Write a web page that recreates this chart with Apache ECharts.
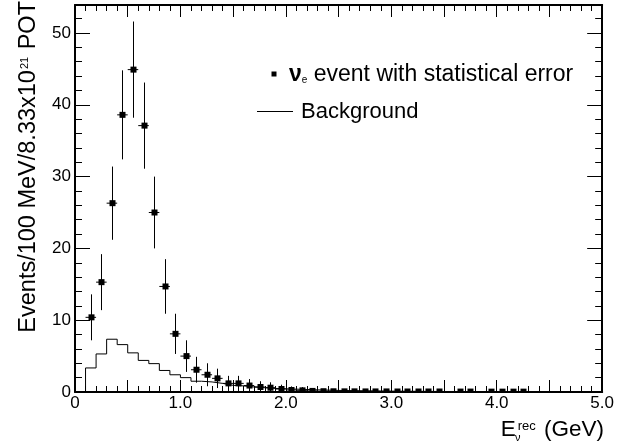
<!DOCTYPE html>
<html>
<head>
<meta charset="utf-8">
<script src="https://cdn.jsdelivr.net/npm/echarts@6/dist/echarts.min.js"></script>
<style>html,body{margin:0;padding:0;background:#fff}#c{width:617px;height:448px}</style>
</head>
<body>
<div id="c"></div>
<script>
// ---- data ----
// measured points (bin centres, GeV), event counts and statistical errors
const pointE = [0.15,0.25,0.35,0.45,0.55,0.65,0.75,0.85,0.95,1.05,1.15,1.25,1.35,1.45,1.55,1.65,1.75,1.85,1.95,2.05,2.15,2.25,2.35,2.45,2.55,2.65,2.75,2.85,2.95,3.05,3.15,3.25,3.35,3.45,3.65,3.75,3.95,4.05,4.15,4.25];
const pointN = [10.4,15.3,26.3,38.6,44.9,37.1,25.0,14.7,8.1,5.0,3.1,2.4,1.9,1.2,1.2,0.9,0.7,0.6,0.42,0.28,0.23,0.15,0.11,0.10,0.09,0.09,0.08,0.08,0.08,0.07,0.07,0.07,0.07,0.07,0.06,0.06,0.05,0.05,0.05,0.05];
const pointErr = [3.2,3.9,5.1,6.2,6.7,6.0,5.0,3.8,2.8,2.2,1.8,1.6,1.35,1.05,1.05,0.9,0.8,0.75,0.6,0.5,0.45,0.35,0.3,0.3,0.28,0.28,0.27,0.27,0.27,0.25,0.25,0.25,0.25,0.25,0.24,0.24,0.22,0.22,0.22,0.22];
const binWidth = 0.1;
// background histogram, one value per 0.1 GeV bin starting at 0.0
const bgValues = [0,3.35,5.3,7.35,6.6,5.45,4.4,3.95,3.0,2.4,2.0,1.5,1.4,1.2,0.93,0.85,0.7,0.6,0.5,
  0.45,0.4,0.35,0.3,0.26,0.22,0.2,0.18,0.16,0.14,0.12,0.11,0.1,0.09,0.08,0.07,0.07,0.06,0.06,0.05,0.05,0.04,0.04,0.04,0.03,0.03,0.03,0.02,0.02,0.02,0.02];
const xMin = 0, xMax = 5.0, yMin = 0, yMax = 53.9;
const xTickLabels = {0:'0',1:'1.0',2:'2.0',3:'3.0',4:'4.0',5:'5.0'};
const yTickLabels = [0,10,20,30,40,50];

const FONT = "'Liberation Sans', Arial, Helvetica, sans-serif";

const bgData = bgValues.map((v,i)=>[+(i*binWidth).toFixed(2), v]);
bgData.push([xMax, bgValues[bgValues.length-1]]);
const ptData = pointE.map((e,i)=>[e, pointN[i], pointErr[i]]);

function xLab(v){ const r=Math.round(v); return Math.abs(v-r)<1e-6 && xTickLabels[r]!==undefined ? xTickLabels[r] : ''; }
function yLab(v){ return yTickLabels.indexOf(Math.round(v))>=0 && Math.abs(v-Math.round(v))<1e-6 ? String(Math.round(v)) : ''; }

const axCommonX = {
  type:'value', min:xMin, max:xMax, interval:0.5,
  axisLine:{show:true,onZero:false,lineStyle:{color:'#000',width:2}},
  axisTick:{show:true,inside:true,length:12,lineStyle:{color:'#000',width:1}},
  minorTick:{show:true,splitNumber:5,length:6,lineStyle:{color:'#000',width:1}},
  splitLine:{show:false}, minorSplitLine:{show:false}
};
const axCommonY = {
  type:'value', min:yMin, max:yMax, interval:10,
  axisLine:{show:true,onZero:false,lineStyle:{color:'#000',width:2}},
  axisTick:{show:true,inside:true,length:15,lineStyle:{color:'#000',width:1}},
  minorTick:{show:true,splitNumber:5,length:7,lineStyle:{color:'#000',width:1}},
  splitLine:{show:false}, minorSplitLine:{show:false}
};

const chart = echarts.init(document.getElementById('c'), null, {renderer:'canvas'});
chart.setOption({
  backgroundColor:'#fff',
  animation:false,
  grid:{left:75,right:13,top:5,bottom:56,containLabel:false},
  xAxis:[
    Object.assign({}, axCommonX, {position:'bottom', axisLabel:{show:true,margin:3,color:'#000',fontFamily:FONT,fontSize:17,formatter:xLab,showMinLabel:true,showMaxLabel:true}}),
    Object.assign({}, axCommonX, {position:'top', axisLabel:{show:false}})
  ],
  yAxis:[
    Object.assign({}, axCommonY, {position:'left', axisLabel:{show:true,margin:4,color:'#000',fontFamily:FONT,fontSize:17,formatter:yLab,showMinLabel:true,showMaxLabel:true}}),
    Object.assign({}, axCommonY, {position:'right', axisLabel:{show:false}})
  ],
  series:[
    {
      name:'Background', type:'line', step:'end', symbol:'none', xAxisIndex:0, yAxisIndex:0,
      data:bgData, lineStyle:{color:'#000',width:1}, clip:true, z:2
    },
    {
      name:'nue', type:'custom', xAxisIndex:0, yAxisIndex:0, clip:true, z:3,
      data:ptData,
      renderItem:function(params, api){
        const x=api.value(0), y=api.value(1), e=api.value(2);
        const c=api.coord([x,y]);
        const t=api.coord([x,y+e]);
        const b=api.coord([x,Math.max(y-e,0)]);
        const l=api.coord([x-binWidth/2,y]);
        const r=api.coord([x+binWidth/2,y]);
        const cx=Math.round(c[0])+0.5;
        return {type:'group',children:[
          {type:'line',shape:{x1:cx,y1:t[1],x2:cx,y2:b[1]},style:{stroke:'#000',lineWidth:1}},
          {type:'line',shape:{x1:l[0],y1:c[1],x2:r[0],y2:c[1]},style:{stroke:'#000',lineWidth:1}},
          {type:'rect',shape:{x:cx-3,y:c[1]-3,width:6,height:6},style:{fill:'#000'}}
        ]};
      }
    }
  ],
  graphic:[
    // y-axis title
    {type:'text', x:29, y:1, rotation:Math.PI/2, style:{
      text:'{a|Events/100 MeV/8.33x10}{s|21}{a| POT}', align:'right', verticalAlign:'middle',
      rich:{a:{fontFamily:FONT,fontSize:23.5,fill:'#000',lineHeight:28,verticalAlign:'middle'},
            s:{fontFamily:FONT,fontSize:11,fill:'#000',lineHeight:28,verticalAlign:'top',padding:[4,1,0,1]}}
    }},
    // x-axis title
    {type:'text', x:604, y:430, style:{
      text:'{a|E}{s|rec}{a| (GeV)}', align:'right', verticalAlign:'middle',
      rich:{a:{fontFamily:FONT,fontSize:22.5,fill:'#000',lineHeight:28,verticalAlign:'middle'},
            s:{fontFamily:FONT,fontSize:13,fill:'#000',lineHeight:28,verticalAlign:'top',padding:[4,2,0,2]}}
    }},
    {type:'text', x:515, y:438, style:{text:'ν', fontFamily:FONT, fontSize:11, fill:'#000', align:'left', verticalAlign:'middle'}},
    // legend
    {type:'rect', shape:{x:271.5,y:71.5,width:5,height:5}, style:{fill:'#000'}},
    {type:'text', x:289, y:75, style:{
      text:'{n|ν}{e|e}{a| event with statistical error}', align:'left', verticalAlign:'middle',
      rich:{n:{fontFamily:FONT,fontSize:23,fontWeight:'bold',fill:'#000',lineHeight:28,verticalAlign:'middle'},
            e:{fontFamily:FONT,fontSize:10,fill:'#000',lineHeight:28,verticalAlign:'bottom',padding:[0,0,4,0]},
            a:{fontFamily:FONT,fontSize:23,fill:'#000',lineHeight:28,verticalAlign:'middle'}}
    }},
    {type:'line', shape:{x1:257,y1:111.5,x2:293,y2:111.5}, style:{stroke:'#000',lineWidth:1}},
    {type:'text', x:301, y:112, style:{text:'Background', fontFamily:FONT, fontSize:22, fill:'#000', align:'left', verticalAlign:'middle'}}
  ]
});
</script>
</body>
</html>
